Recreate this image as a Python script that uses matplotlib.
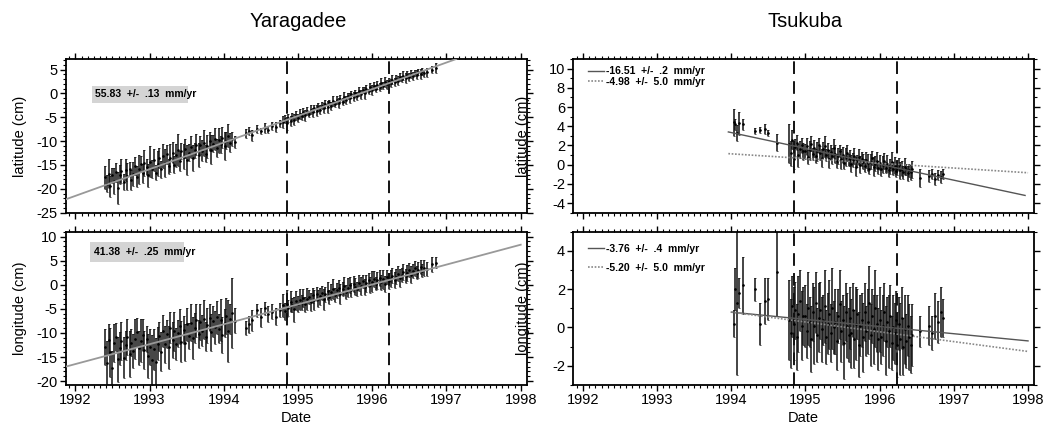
import matplotlib.pyplot as plt
from matplotlib.ticker import MultipleLocator
from matplotlib.patches import Rectangle

plt.rcParams['font.family'] = ['Liberation Sans', 'DejaVu Sans']
plt.rcParams['axes.unicode_minus'] = False

# Yaragadee observations (decimal year), shared by latitude and longitude
yar_dates = [
    1992.40, 1992.42, 1992.45, 1992.47, 1992.50, 1992.52, 1992.55, 1992.57, 1992.60, 1992.62,
    1992.65, 1992.68, 1992.70, 1992.73, 1992.75, 1992.78, 1992.80, 1992.83, 1992.86, 1992.88,
    1992.91, 1992.93, 1992.96, 1992.98, 1993.01, 1993.03, 1993.06, 1993.08, 1993.11, 1993.13,
    1993.16, 1993.18, 1993.21, 1993.23, 1993.26, 1993.28, 1993.31, 1993.33, 1993.36, 1993.38,
    1993.41, 1993.43, 1993.46, 1993.48, 1993.51, 1993.53, 1993.56, 1993.58, 1993.61, 1993.63,
    1993.66, 1993.68, 1993.71, 1993.73, 1993.76, 1993.78, 1993.81, 1993.83, 1993.86, 1993.88,
    1993.91, 1993.93, 1993.96, 1993.98, 1994.01, 1994.03, 1994.06, 1994.08, 1994.11, 1994.15,
    1994.30, 1994.34, 1994.38, 1994.45, 1994.50, 1994.55, 1994.60, 1994.65, 1994.70, 1994.76,
    1994.80, 1994.82, 1994.85, 1994.87, 1994.90, 1994.92, 1994.95, 1994.97, 1995.00, 1995.02,
    1995.05, 1995.07, 1995.10, 1995.12, 1995.15, 1995.17, 1995.20, 1995.22, 1995.25, 1995.27,
    1995.30, 1995.32, 1995.35, 1995.37, 1995.40, 1995.42, 1995.45, 1995.47, 1995.50, 1995.52,
    1995.55, 1995.57, 1995.60, 1995.62, 1995.65, 1995.67, 1995.70, 1995.72, 1995.75, 1995.77,
    1995.80, 1995.82, 1995.85, 1995.87, 1995.90, 1995.92, 1995.95, 1995.97, 1996.00, 1996.02,
    1996.05, 1996.07, 1996.10, 1996.12, 1996.15, 1996.17, 1996.20, 1996.22, 1996.25, 1996.27,
    1996.30, 1996.32, 1996.35, 1996.37, 1996.40, 1996.42, 1996.45, 1996.47, 1996.50, 1996.52,
    1996.55, 1996.57, 1996.60, 1996.62, 1996.65, 1996.67, 1996.70, 1996.74, 1996.80, 1996.86,
]
yar_lat = [
    -17.6, -18.9, -16.8, -19.5, -17.2, -18.4, -16.5, -19.8, -17.0, -16.3,
    -18.6, -16.1, -17.4, -15.8, -18.2, -16.9, -15.2, -17.5, -15.9, -14.8,
    -16.7, -14.6, -15.5, -17.2, -14.3, -15.8, -13.9, -16.6, -14.7, -13.5,
    -15.9, -13.2, -14.6, -12.8, -15.3, -13.6, -12.4, -14.9, -13.0, -11.9,
    -14.2, -12.1, -13.3, -11.6, -13.9, -12.4, -11.2, -13.5, -11.9, -10.8,
    -12.9, -10.9, -12.0, -10.4, -12.6, -11.1, -10.0, -11.8, -10.5, -9.6,
    -11.4, -9.8, -10.7, -9.3, -11.0, -9.9, -8.9, -10.3, -9.5, -10.2,
    -8.4, -7.9, -8.8, -7.5, -7.9, -7.2, -7.6, -6.8, -7.0, -6.3,
    -6.0, -5.4, -6.3, -5.2, -5.8, -4.9, -5.5, -4.6, -5.1, -4.3,
    -4.8, -4.0, -4.6, -3.7, -4.3, -3.4, -4.0, -3.1, -3.6, -2.8,
    -3.4, -2.6, -3.1, -2.2, -2.9, -1.9, -2.6, -1.6, -2.2, -1.4,
    -2.0, -1.1, -1.7, -0.8, -1.4, -0.5, -1.0, -0.2, -0.7, 0.1,
    -0.5, 0.4, -0.2, 0.7, 0.1, 1.0, 0.4, 1.3, 0.7, 1.5,
    1.0, 1.8, 1.3, 2.1, 1.6, 2.4, 1.9, 2.6, 2.2, 2.9,
    2.4, 3.1, 2.7, 3.4, 3.0, 3.7, 3.2, 3.9, 3.5, 4.1,
    3.7, 4.3, 3.9, 4.5, 4.1, 4.6, 4.2, 4.4, 5.0, 5.3,
]
yar_lat_err = [
    2.4, 1.8, 3.1, 2.2, 1.6, 2.7, 2.0, 3.4, 1.9, 2.5,
    1.7, 2.3, 2.9, 1.5, 2.1, 2.6, 1.8, 2.2, 3.0, 1.6,
    2.0, 2.8, 1.7, 2.4, 3.2, 1.9, 2.3, 1.6, 2.7, 2.1,
    1.8, 2.5, 3.0, 2.0, 1.6, 2.9, 2.2, 1.7, 2.4, 3.3,
    2.1, 1.7, 2.6, 2.0, 3.1, 1.8, 2.3, 2.7, 1.6, 2.2,
    2.5, 1.9, 2.2, 2.8, 1.7, 2.4, 2.0, 3.0, 1.8, 2.3,
    1.9, 2.6, 1.7, 2.2, 2.9, 1.8, 2.4, 2.0, 1.5, 1.2,
    1.0, 0.8, 1.2, 0.9, 0.7, 1.1, 0.8, 0.9, 1.0, 0.8,
    1.2, 0.9, 1.4, 0.8, 1.0, 0.7, 1.1, 0.9, 0.8, 1.0,
    0.7, 0.9, 1.1, 0.8, 0.6, 1.0, 0.9, 0.7, 1.2, 0.8,
    0.9, 0.7, 1.0, 0.8, 1.3, 0.6, 0.9, 1.1, 0.7, 0.8,
    1.0, 0.8, 0.7, 1.1, 0.9, 0.6, 1.0, 0.8, 0.9, 0.7,
    0.8, 1.0, 0.9, 0.7, 1.2, 0.8, 0.6, 0.9, 1.0, 0.8,
    0.7, 0.9, 0.8, 1.1, 0.7, 1.0, 0.9, 0.6, 0.8, 1.0,
    0.9, 0.7, 1.0, 0.8, 0.6, 0.9, 1.1, 0.7, 0.8, 0.9,
    0.8, 0.6, 0.9, 0.7, 1.0, 0.8, 0.7, 0.9, 0.8, 1.0,
]
yar_lon = [
    -12.9, -16.2, -11.4, -14.0, -17.3, -12.1, -10.8, -15.5, -13.2, -11.7,
    -15.1, -12.6, -10.9, -14.4, -12.0, -13.8, -11.3, -9.9, -13.1, -11.6,
    -10.4, -13.5, -11.2, -14.8, -12.9, -15.6, -13.4, -16.1, -12.2, -10.7,
    -13.9, -9.6, -12.4, -10.3, -13.0, -8.9, -11.5, -9.7, -12.3, -10.1,
    -8.6, -11.8, -9.4, -12.0, -8.2, -10.6, -7.9, -11.1, -9.0, -7.4,
    -10.2, -7.8, -9.5, -7.2, -10.8, -8.4, -6.9, -9.9, -7.6, -8.8,
    -6.8, -9.1, -7.3, -10.4, -8.0, -6.5, -9.6, -7.1, -5.9, -7.5,
    -9.0, -8.2, -7.4, -5.3, -6.8, -4.9, -6.1, -5.6, -6.6, -5.2,
    -4.3, -5.5, -3.9, -4.8, -3.5, -4.2, -5.1, -3.3, -4.0, -3.1,
    -3.7, -2.8, -4.1, -3.0, -2.5, -3.6, -2.2, -3.2, -1.9, -2.9,
    -2.4, -1.7, -3.0, -2.0, -1.3, -2.6, -1.5, -0.9, -2.1, -1.2,
    -0.7, -1.9, -0.9, -0.3, -1.5, -0.6, -0.1, -1.1, 0.2, -0.4,
    -0.9, 0.4, -0.2, 0.7, -0.5, 0.3, 1.0, 0.0, 0.6, 1.2,
    0.2, 0.9, 1.4, 0.5, 1.1, 0.1, 1.6, 0.8, 1.3, 1.9,
    1.0, 1.7, 2.3, 1.4, 2.0, 2.6, 1.8, 2.4, 3.0, 2.1,
    2.8, 3.4, 2.5, 3.1, 3.7, 2.9, 3.5, 3.3, 4.2, 4.6,
]
yar_lon_err = [
    3.8, 4.5, 3.2, 5.1, 3.6, 4.0, 2.9, 4.7, 3.4, 3.9,
    4.2, 3.1, 3.7, 4.8, 2.8, 3.5, 4.1, 3.0, 3.6, 4.4,
    3.3, 3.9, 2.7, 4.6, 3.8, 5.2, 4.3, 5.0, 3.5, 3.0,
    4.1, 3.4, 3.8, 2.9, 4.5, 3.2, 3.7, 4.0, 3.3, 2.8,
    3.6, 4.2, 3.0, 3.9, 3.4, 2.7, 3.8, 4.4, 3.1, 3.5,
    2.9, 3.7, 3.3, 4.1, 3.0, 3.6, 2.8, 3.9, 3.2, 3.4,
    3.5, 3.0, 4.3, 3.7, 2.9, 3.8, 6.4, 3.2, 7.2, 2.6,
    1.5, 1.8, 2.2, 1.4, 1.9, 1.3, 1.6, 1.5, 1.7, 1.4,
    2.4, 1.8, 2.9, 1.6, 2.1, 1.5, 2.6, 1.9, 1.7, 2.2,
    1.5, 1.9, 1.6, 2.3, 1.4, 1.8, 1.6, 2.0, 1.5, 1.7,
    1.8, 1.4, 2.2, 1.6, 1.9, 1.5, 1.7, 2.1, 1.4, 1.6,
    1.6, 2.0, 1.5, 1.8, 1.4, 1.9, 1.6, 1.5, 1.7, 1.8,
    1.5, 1.7, 1.9, 1.4, 1.6, 1.8, 1.5, 1.7, 2.2, 1.6,
    1.4, 1.8, 1.6, 1.5, 1.9, 1.7, 1.4, 1.6, 1.8, 1.5,
    1.7, 1.5, 1.6, 1.8, 1.4, 1.7, 1.5, 1.6, 1.4, 1.7,
    1.5, 1.6, 1.4, 1.7, 1.5, 1.3, 1.6, 1.4, 1.5, 1.2,
]

# Tsukuba observations
tsu_dates = [
    1994.03, 1994.05, 1994.08, 1994.11, 1994.16, 1994.32, 1994.39, 1994.46, 1994.50, 1994.61,
    1994.78, 1994.80, 1994.82, 1994.84, 1994.86, 1994.88, 1994.90, 1994.93, 1994.95, 1994.97,
    1995.00, 1995.02, 1995.04, 1995.06, 1995.08, 1995.10, 1995.12, 1995.14, 1995.16, 1995.18,
    1995.20, 1995.22, 1995.24, 1995.26, 1995.28, 1995.30, 1995.32, 1995.34, 1995.36, 1995.38,
    1995.40, 1995.42, 1995.44, 1995.46, 1995.48, 1995.50, 1995.52, 1995.54, 1995.56, 1995.58,
    1995.60, 1995.62, 1995.64, 1995.66, 1995.68, 1995.70, 1995.72, 1995.74, 1995.76, 1995.78,
    1995.80, 1995.82, 1995.84, 1995.86, 1995.88, 1995.90, 1995.92, 1995.94, 1995.96, 1995.98,
    1996.00, 1996.02, 1996.04, 1996.06, 1996.08, 1996.10, 1996.12, 1996.14, 1996.16, 1996.18,
    1996.20, 1996.22, 1996.24, 1996.26, 1996.28, 1996.30, 1996.32, 1996.34, 1996.36, 1996.38,
    1996.40, 1996.42, 1996.44, 1996.54, 1996.66, 1996.70, 1996.74, 1996.78, 1996.82, 1996.86,
]
tsu_lat = [
    4.4, 4.2, 3.3, 4.3, 4.2, 3.5, 3.6, 3.7, 3.3, 2.3,
    2.2, 1.2, 2.6, 0.6, 1.8, 2.3, 1.0, 1.6, 2.0, 1.4,
    1.4, 1.9, 0.8, 1.5, 2.2, 1.1, 1.7, 0.9, 1.4, 2.0,
    1.2, 0.7, 1.6, 1.9, 1.0, 1.5, 0.6, 1.3, 0.9, 1.7,
    1.1, 0.4, 0.9, 1.4, 0.6, 1.0, 0.2, 0.8, 1.2, 0.5,
    0.7, 0.1, 0.5, 0.9, -0.2, 0.4, 0.8, 0.0, 0.6, 0.3,
    -0.1, 0.5, 0.2, -0.4, 0.3, 0.7, -0.2, 0.1, 0.4, -0.3,
    0.2, -0.5, 0.0, 0.4, -0.3, 0.1, -0.6, -0.2, 0.3, -0.4,
    -0.1, -0.7, -0.3, 0.0, -0.6, -0.4, -0.8, -0.2, -0.5, -0.9,
    -0.6, -0.8, -0.5, -1.4, -1.2, -1.0, -1.5, -1.1, -1.3, -1.0,
]
tsu_lat_err = [
    1.4, 0.6, 0.8, 1.2, 0.6, 0.3, 0.3, 0.5, 0.3, 0.9,
    2.0, 1.3, 1.0, 1.1, 0.9, 0.8, 1.2, 0.9, 0.8, 0.9,
    0.8, 0.9, 0.7, 1.0, 0.8, 0.6, 0.9, 0.7, 1.0, 0.8,
    0.7, 0.9, 0.8, 1.1, 0.6, 0.8, 0.9, 0.7, 0.8, 1.0,
    0.9, 0.7, 0.8, 0.6, 1.0, 0.8, 0.7, 0.9, 0.8, 0.6,
    0.8, 0.9, 0.7, 0.8, 1.0, 0.6, 0.8, 0.9, 0.7, 0.8,
    0.7, 0.8, 0.9, 0.6, 0.8, 0.7, 1.0, 0.8, 0.9, 0.7,
    0.8, 0.7, 0.9, 0.8, 0.6, 0.9, 0.7, 0.8, 1.0, 0.7,
    0.9, 0.6, 0.8, 0.7, 0.9, 0.8, 0.7, 0.9, 0.6, 0.8,
    0.7, 0.8, 0.9, 0.9, 0.6, 0.5, 0.6, 0.5, 0.6, 0.5,
]
tsu_lon = [
    0.2, 2.0, 1.3, 1.8, 2.2, 2.0, 0.2, 1.4, 1.5, 2.9,
    0.4, -0.3, 1.1, 0.2, 0.9, -0.5, 0.7, 1.4, 0.1, 0.6,
    0.6, -0.2, 1.0, 0.3, -0.6, 0.8, 0.1, 1.3, -0.4, 0.5,
    0.9, -0.1, 0.4, 1.1, -0.5, 0.2, 0.7, -0.3, 1.0, 0.0,
    0.3, -0.7, 0.6, 1.2, -0.2, 0.4, -0.8, 0.8, 0.1, -0.4,
    0.5, -0.3, 0.9, -0.6, 0.2, 0.7, -0.9, 0.1, 0.4, -0.5,
    0.8, -0.2, 0.3, 1.3, -0.4, 0.6, -0.1, 1.0, 0.2, -0.6,
    0.4, -0.5, 0.1, 0.8, -0.7, 0.3, -0.2, 0.6, -0.8, 0.0,
    -0.3, 0.4, -0.9, 0.2, -0.6, 0.5, -1.0, -0.1, -0.7, 0.1,
    -0.5, -0.9, -0.4, -0.2, 0.1, -0.3, 0.6, 0.3, 0.8, 0.5,
]
tsu_lon_err = [
    0.7, 1.1, 3.8, 0.8, 1.5, 0.6, 1.1, 1.2, 1.1, 2.3,
    2.1, 1.8, 1.6, 1.9, 1.5, 1.7, 2.0, 1.6, 1.8, 1.5,
    1.6, 1.4, 1.9, 1.3, 1.7, 1.5, 2.0, 1.6, 1.4, 1.8,
    1.5, 1.7, 1.3, 1.9, 1.4, 1.6, 1.8, 1.5, 2.1, 1.4,
    1.7, 1.5, 1.4, 1.8, 1.6, 1.3, 1.9, 1.5, 1.7, 1.4,
    1.6, 1.8, 1.4, 1.5, 1.9, 1.3, 1.7, 1.6, 1.4, 1.8,
    1.5, 1.3, 1.7, 1.9, 1.6, 1.4, 1.8, 2.0, 1.5, 1.6,
    1.7, 1.4, 1.6, 1.5, 1.8, 1.3, 1.9, 1.6, 1.4, 1.7,
    1.6, 1.5, 1.7, 1.4, 1.9, 1.6, 1.5, 1.8, 1.4, 1.6,
    1.7, 1.5, 1.6, 0.8, 1.0, 0.9, 1.2, 1.1, 1.3, 1.0,
]

# fitted rate lines (end points)
yar_lat_fit_t, yar_lat_fit = [1991.87, 1997.13], [-22.2, 7.2]
yar_lon_fit_t, yar_lon_fit = [1991.87, 1998.0], [-17.0, 8.3]
tsu_lat_fit_t, tsu_lat_fit = [1993.96, 1997.96], [3.41, -3.2]
tsu_lat_fit2_t, tsu_lat_fit2 = [1993.96, 1998.0], [1.15, -0.84]
tsu_lon_fit_t, tsu_lon_fit = [1994.0, 1998.0], [0.8, -0.7]
tsu_lon_fit2_t, tsu_lon_fit2 = [1994.0, 1998.0], [0.8, -1.25]

events = [1994.85, 1996.23]


def setup(ax, dates, vals, errs, ylim, major, ylabel, labelx):
    ax.errorbar(dates, vals, yerr=errs, fmt='.', ms=1.8, color='black',
                ecolor='#111111', elinewidth=1.1, capsize=0.8, capthick=0.5, zorder=2)
    for d in events:
        ax.axvline(d, color='black', lw=1.3, dashes=(7, 4), zorder=1)
    ax.set_xlim(1991.87, 1998.08)
    ax.set_ylim(*ylim)
    ax.xaxis.set_major_locator(MultipleLocator(1))
    ax.xaxis.set_minor_locator(MultipleLocator(1 / 12))
    ax.yaxis.set_major_locator(MultipleLocator(major))
    ax.yaxis.set_minor_locator(MultipleLocator(1))
    ax.tick_params(which='both', direction='out', top=True, right=True, labelsize=10.5, pad=2)
    ax.tick_params(which='major', length=4, width=1)
    ax.tick_params(which='minor', length=2, width=0.8)
    for s in ax.spines.values():
        s.set_linewidth(1.3)
    ax.set_ylabel(ylabel, fontsize=10.5)
    ax.yaxis.set_label_coords(labelx, 0.5)


fig = plt.figure(figsize=(10.46, 4.30), dpi=100)
ax_tl = fig.add_axes([0.0628, 0.5053, 0.4407, 0.3574])
ax_bl = fig.add_axes([0.0628, 0.1047, 0.4407, 0.3565])
ax_tr = fig.add_axes([0.5481, 0.5053, 0.4404, 0.3574])
ax_br = fig.add_axes([0.5481, 0.1047, 0.4404, 0.3565])

setup(ax_tl, yar_dates, yar_lat, yar_lat_err, (-25, 7.2), 5, 'latitude (cm)', -0.084)
setup(ax_bl, yar_dates, yar_lon, yar_lon_err, (-20.8, 11), 5, 'longitude (cm)', -0.084)
setup(ax_tr, tsu_dates, tsu_lat, tsu_lat_err, (-5, 11), 2, 'latitude (cm)', -0.094)
setup(ax_br, tsu_dates, tsu_lon, tsu_lon_err, (-3, 5), 2, 'longitude (cm)', -0.094)

for ax in (ax_tl, ax_tr):
    ax.tick_params(labelbottom=False)
for ax in (ax_bl, ax_br):
    ax.set_xlabel('Date', fontsize=10.5, labelpad=3)

# Yaragadee fits with grey rate boxes
ax_tl.plot(yar_lat_fit_t, yar_lat_fit, color='#999999', lw=1.3, zorder=3)
ax_bl.plot(yar_lon_fit_t, yar_lon_fit, color='#999999', lw=1.3, zorder=3)
ax_tl.add_patch(Rectangle((0.056, 0.716), 0.209, 0.11, transform=ax_tl.transAxes,
                          facecolor='#d4d4d4', edgecolor='none', zorder=4))
ax_tl.text(0.064, 0.771, '55.83  +/-  .13  mm/yr', transform=ax_tl.transAxes,
           fontsize=7.5, fontweight='bold', va='center', zorder=5)
ax_bl.add_patch(Rectangle((0.053, 0.802), 0.204, 0.131, transform=ax_bl.transAxes,
                          facecolor='#d4d4d4', edgecolor='none', zorder=4))
ax_bl.text(0.061, 0.868, '41.38  +/-  .25  mm/yr', transform=ax_bl.transAxes,
           fontsize=7.5, fontweight='bold', va='center', zorder=5)

# Tsukuba fits with legends
l1, = ax_tr.plot(tsu_lat_fit_t, tsu_lat_fit, color='#555555', lw=1.0, zorder=3)
l2, = ax_tr.plot(tsu_lat_fit2_t, tsu_lat_fit2, color='#888888', lw=1.2,
                 linestyle=(0, (1, 1)), zorder=3)
ax_tr.legend([l1, l2], ['-16.51  +/-  .2  mm/yr', '-4.98  +/-  5.0  mm/yr'],
             loc='upper left', bbox_to_anchor=(0.015, 1.0), frameon=False,
             prop={'size': 7.5, 'weight': 'bold'}, handlelength=1.6,
             handletextpad=0.2, labelspacing=0.05, borderaxespad=0.3)
l3, = ax_br.plot(tsu_lon_fit_t, tsu_lon_fit, color='#555555', lw=1.0, zorder=3)
l4, = ax_br.plot(tsu_lon_fit2_t, tsu_lon_fit2, color='#888888', lw=1.2,
                 linestyle=(0, (1, 1)), zorder=3)
ax_br.legend([l3, l4], ['-3.76  +/-  .4  mm/yr', '-5.20  +/-  5.0  mm/yr'],
             loc='upper left', bbox_to_anchor=(0.015, 0.97), frameon=False,
             prop={'size': 7.5, 'weight': 'bold'}, handlelength=1.6,
             handletextpad=0.2, labelspacing=0.9, borderaxespad=0.3)

fig.text(0.285, 0.95, 'Yaragadee', fontsize=14.5, ha='center', va='center')
fig.text(0.77, 0.95, 'Tsukuba', fontsize=14.5, ha='center', va='center')

fig.savefig('out.png', dpi=100)
